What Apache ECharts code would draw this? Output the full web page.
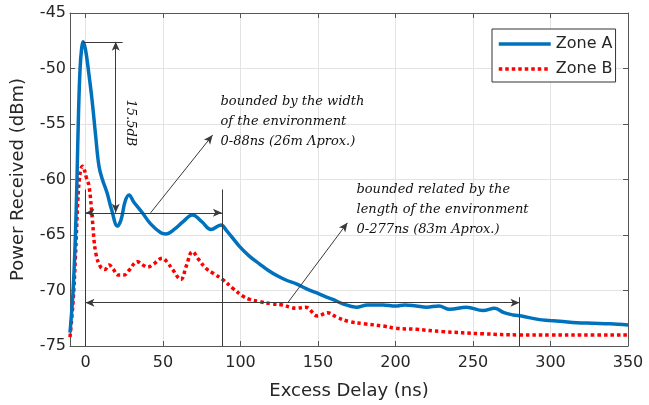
<!DOCTYPE html>
<html>
<head>
<meta charset="utf-8">
<script src="https://cdn.jsdelivr.net/npm/echarts@6/dist/echarts.min.js"></script>
<style>
  html, body { margin: 0; padding: 0; background: #fff; }
  #chart { width: 649px; height: 405px; }
</style>
</head>
<body>
<div id="chart"></div>
<script>
// Zone A (blue, solid)
var delayA = [-10, -8, -6.5, -5.5, -4.5, -3.5, -2.5, -1.6, 0, 2, 4.2, 6.5, 8.7, 10.9, 13.9, 17, 20.6, 23, 25.5, 28.1, 31, 36.7, 42, 48.6, 52, 57.2, 63, 69, 75, 80.9, 87.4, 91, 99.2, 105.7, 112.2, 118, 124, 130, 136, 142, 148.8, 154, 159.5, 166, 174.7, 182, 191.9, 200, 206, 213.4, 220, 228, 235, 245.8, 256.5, 264, 270, 275.9, 281.3, 292, 299.6, 308, 316.9, 327, 338.4, 350];
var powerA = [-73.8, -70, -65, -60, -54, -50, -48.2, -47.6, -48.3, -50.3, -52.8, -56, -58.8, -60.0, -61.2, -62.8, -64.2, -63.6, -62, -61.4, -62.0, -63.0, -64, -64.8, -64.9, -64.5, -63.8, -63.2, -63.8, -64.5, -64.1, -64.6, -66.0, -66.9, -67.6, -68.2, -68.7, -69.1, -69.4, -69.8, -70.2, -70.5, -70.8, -71.2, -71.5, -71.3, -71.3, -71.4, -71.3, -71.4, -71.5, -71.4, -71.7, -71.5, -71.8, -71.6, -72.0, -72.2, -72.3, -72.6, -72.7, -72.8, -72.9, -72.95, -73.0, -73.1];

// Zone B (red, dotted)
var delayB = [-10, -8, -6.5, -5, -4, -3, -2, -1, 0.5, 2.3, 4.4, 6.6, 9.8, 12.5, 15.2, 18, 21, 24.9, 28, 33.5, 37, 40, 44, 49.6, 53, 56.1, 61.5, 65, 69, 73, 77.7, 83, 88.4, 95, 101.4, 106, 112.2, 120, 127.2, 132, 135.9, 142, 149.8, 156.3, 162, 170.3, 180, 191.9, 200, 213.4, 230, 256.5, 280, 300, 320, 350];
var powerB = [-74.2, -71, -67, -62, -60, -59.1, -58.8, -59, -59.8, -60.6, -63.6, -66.6, -67.9, -68.1, -67.7, -68.1, -68.6, -68.6, -68.2, -67.4, -67.7, -67.9, -67.6, -67.1, -67.5, -68.1, -69.0, -67.8, -66.5, -67.2, -68.0, -68.5, -69.0, -69.8, -70.5, -70.8, -71.0, -71.2, -71.3, -71.5, -71.6, -71.5, -72.3, -72.0, -72.4, -72.8, -73.0, -73.2, -73.4, -73.5, -73.7, -73.9, -74.0, -74.0, -74.0, -74.0];

var seriesNames = ['Zone A', 'Zone B'];

// annotation geometry in data units: [x1, y1, x2, y2, startArrow, endArrow]
var annoLines = [
    [-1.6, -47.6, 24, -47.6, 0, 0],
    [19.5, -47.6, 19.5, -63.0, 1, 1],
    [0, -63.0, 88, -63.0, 1, 1],
    [0, -60.9, 0, -75, 0, 0],
    [88, -60.9, 88, -75, 0, 0],
    [0, -71.1, 280, -71.1, 1, 1],
    [280, -70.6, 280, -75, 0, 0],
    [42, -63.0, 82, -56, 0, 1],
    [130.5, -71.1, 169, -63.9, 0, 1]
];
var annoTextPos = [[86.8, -54.76], [174.5, -62.7]];
var annoTexts = [
    'bounded by the width\nof the environment\n0-88ns (26m Λprox.)',
    'bounded related by the\nlength of the environment\n0-277ns (83m Aprox.)'
];
var dbTextPos = [28.7, -54.9];
var dbText = '15.5dB';

function pairs(xs, ys) {
    return xs.map(function (x, i) { return [x, ys[i]]; });
}

var sans = 'DejaVu Sans';
var axisColor = '#555';
var textColor = '#262626';

var markLines = annoLines.map(function (l) {
    return [
        {coord: [l[0], l[1]], symbol: l[4] ? 'arrow' : 'none', symbolSize: [6, 9]},
        {coord: [l[2], l[3]], symbol: l[5] ? 'arrow' : 'none', symbolSize: [6, 9]}
    ];
});

var markPoints = annoTexts.map(function (t, i) {
    return {
        coord: annoTextPos[i],
        value: t,
        label: {
            show: true, position: 'right', distance: 0,
            formatter: t,
            fontFamily: 'DejaVu Serif', fontStyle: 'italic', fontSize: 13,
            lineHeight: 20, color: '#111'
        }
    };
});
markPoints.push({
    coord: dbTextPos,
    value: dbText,
    label: {
        show: true, position: 'inside', rotate: -90,
        formatter: dbText,
        fontFamily: 'DejaVu Serif', fontStyle: 'italic', fontSize: 13, color: '#111'
    }
});

var chart = echarts.init(document.getElementById('chart'));
chart.setOption({
    animation: false,
    backgroundColor: '#fff',
    grid: {left: 70, right: 21, top: 13, bottom: 59},
    legend: {
        data: seriesNames,
        orient: 'vertical',
        left: 492, top: 29,
        backgroundColor: '#fff',
        borderColor: '#333',
        borderWidth: 1,
        padding: [7, 3, 5, 5],
        itemWidth: 52,
        itemHeight: 14,
        itemGap: 9,
        itemStyle: {opacity: 0},
        lineStyle: {width: 3.5},
        textStyle: {fontFamily: sans, fontSize: 16, color: textColor, lineHeight: 14}
    },
    xAxis: [{
        type: 'value', min: -10, max: 350, splitNumber: 7,
        minInterval: 50, maxInterval: 50,
        name: 'Excess Delay (ns)', nameLocation: 'middle', nameGap: 36,
        nameTextStyle: {fontFamily: sans, fontSize: 18, color: textColor},
        axisLine: {show: true, onZero: false, lineStyle: {color: axisColor}},
        axisTick: {show: true, inside: true, length: 5, lineStyle: {color: axisColor}},
        axisLabel: {
            fontFamily: sans, fontSize: 16, color: textColor, margin: 9,
            formatter: function (v) { return v < 0 ? '' : String(v); }
        },
        splitLine: {show: true, lineStyle: {color: '#e3e3e3'}}
    }, {
        type: 'value', min: -10, max: 350, splitNumber: 7,
        minInterval: 50, maxInterval: 50, position: 'top',
        axisLine: {show: true, onZero: false, lineStyle: {color: axisColor}},
        axisTick: {show: true, inside: true, length: 5, lineStyle: {color: axisColor}},
        axisLabel: {show: false},
        splitLine: {show: false}
    }],
    yAxis: [{
        type: 'value', min: -75, max: -45, interval: 5,
        name: 'Power Received (dBm)', nameLocation: 'middle', nameGap: 43,
        nameTextStyle: {fontFamily: sans, fontSize: 18, color: textColor},
        axisLine: {show: true, onZero: false, lineStyle: {color: axisColor}},
        axisTick: {show: true, inside: true, length: 5, lineStyle: {color: axisColor}},
        axisLabel: {fontFamily: sans, fontSize: 16, color: textColor, margin: 4},
        splitLine: {show: true, lineStyle: {color: '#e3e3e3'}}
    }, {
        type: 'value', min: -75, max: -45, interval: 5, position: 'right',
        axisLine: {show: true, onZero: false, lineStyle: {color: axisColor}},
        axisTick: {show: true, inside: true, length: 5, lineStyle: {color: axisColor}},
        axisLabel: {show: false},
        splitLine: {show: false}
    }],
    series: [{
        name: seriesNames[0],
        type: 'line',
        data: pairs(delayA, powerA),
        smooth: 0.4,
        symbol: 'none',
        z: 3,
        color: '#0072BD',
        lineStyle: {color: '#0072BD', width: 3.5}
    }, {
        name: seriesNames[1],
        type: 'line',
        data: pairs(delayB, powerB),
        smooth: 0.4,
        symbol: 'none',
        z: 2,
        color: '#ff0000',
        lineStyle: {color: '#ff0000', width: 3.5, type: [3.5, 3], cap: 'butt'}
    }, {
        name: 'annotations',
        type: 'line',
        data: [],
        silent: true,
        z: 4,
        markLine: {
            silent: true,
            animation: false,
            symbol: ['none', 'none'],
            label: {show: false},
            lineStyle: {color: '#3a3a3a', width: 1, type: 'solid'},
            emphasis: {disabled: true},
            data: markLines
        },
        markPoint: {
            silent: true,
            animation: false,
            symbol: 'rect',
            symbolSize: 1,
            itemStyle: {color: 'rgba(0,0,0,0)'},
            data: markPoints
        }
    }]
});
</script>
</body>
</html>
